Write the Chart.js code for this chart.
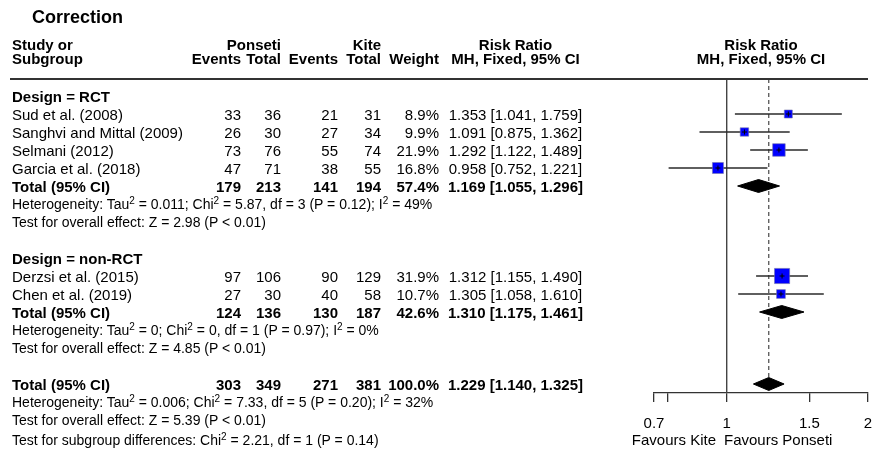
<!DOCTYPE html>
<html><head><meta charset="utf-8">
<script src="https://cdn.jsdelivr.net/npm/chart.js@4/dist/chart.umd.min.js"></script>
<style>
html,body{margin:0;padding:0;background:#fff;}
#wrap{position:relative;width:875px;height:450px;overflow:hidden;font-family:"Liberation Sans",Arial,Helvetica,sans-serif;color:#000;}
#c{position:absolute;left:0;top:0;}
.t{position:absolute;white-space:nowrap;line-height:1;}
.t sup{font-size:10px;line-height:0;vertical-align:5px;}
#rule{position:absolute;left:10px;top:78px;width:858px;height:1.5px;background:#333;}
</style></head><body><div id="wrap"><canvas id="c" width="875" height="450"></canvas><div id="rule"></div></div>
<script>
// ---------- data ----------
const studies = ["Sud et al. (2008)", "Sanghvi and Mittal (2009)", "Selmani (2012)", "Garcia et al. (2018)", "Derzsi et al. (2015)", "Chen et al. (2019)"];
const studyGroup = [0, 0, 0, 0, 1, 1];
const ponsetiEvents = [33, 26, 73, 47, 97, 27];
const ponsetiTotal = [36, 30, 76, 71, 106, 30];
const kiteEvents = [21, 27, 55, 38, 90, 40];
const kiteTotal = [31, 34, 74, 55, 129, 58];
const weights = [8.9, 9.9, 21.9, 16.8, 31.9, 10.7];
const rr = [1.353, 1.091, 1.292, 0.958, 1.312, 1.305];
const rrLow = [1.041, 0.875, 1.122, 0.752, 1.155, 1.058];
const rrHigh = [1.759, 1.362, 1.489, 1.221, 1.490, 1.610];

const groups = ["Design = RCT", "Design = non-RCT"];
const groupPonsetiEvents = [179, 124];
const groupPonsetiTotal = [213, 136];
const groupKiteEvents = [141, 130];
const groupKiteTotal = [194, 187];
const groupWeights = [57.4, 42.6];
const groupRR = [1.169, 1.310];
const groupLow = [1.055, 1.175];
const groupHigh = [1.296, 1.461];
const groupHet = [
  "Heterogeneity: Tau<sup>2</sup> = 0.011; Chi<sup>2</sup> = 5.87, df = 3 (P = 0.12); I<sup>2</sup> = 49%",
  "Heterogeneity: Tau<sup>2</sup> = 0; Chi<sup>2</sup> = 0, df = 1 (P = 0.97); I<sup>2</sup> = 0%"
];
const groupTest = ["Test for overall effect: Z = 2.98 (P &lt; 0.01)", "Test for overall effect: Z = 4.85 (P &lt; 0.01)"];

const overallTotals = [303, 349, 271, 381];
const overallWeight = 100.0;
const overallRR = 1.229, overallLow = 1.140, overallHigh = 1.325;
const overallHet = "Heterogeneity: Tau<sup>2</sup> = 0.006; Chi<sup>2</sup> = 7.33, df = 5 (P = 0.20); I<sup>2</sup> = 32%";
const overallTest = "Test for overall effect: Z = 5.39 (P &lt; 0.01)";
const subgroupTest = "Test for subgroup differences: Chi<sup>2</sup> = 2.21, df = 1 (P = 0.14)";

const xTicks = [0.7, 0.75, 1, 1.5, 2];
const xTickLabels = ["0.7", "", "1", "1.5", "2"];
const nullValue = 1;

// ---------- layout ----------
const W = 875;
const ROW_H = 18, FIRST_ROW_Y = 114, PLOT_TOP = 79, AXIS_Y = 393;
const yMin = (PLOT_TOP - FIRST_ROW_Y) / ROW_H;
const yMax = (AXIS_Y - FIRST_ROW_Y) / ROW_H;
const COL = {pe: 241, pt: 281, ke: 338, kt: 381, w: 439, rr: 515.5};
const FS = 15, FS_STAT = 14;
const wrap = document.getElementById('wrap');

function txt(html, x, base, align, bold, size) {
  size = size || FS;
  const d = document.createElement('div');
  d.className = 't';
  d.style.fontSize = size + 'px';
  if (bold) d.style.fontWeight = 'bold';
  d.innerHTML = html;
  d.style.top = (base - 0.8465 * size) + 'px';
  if (align === 'right') d.style.right = (W - x) + 'px';
  else if (align === 'center') { d.style.left = x + 'px'; d.style.transform = 'translateX(-50%)'; }
  else d.style.left = x + 'px';
  wrap.appendChild(d);
}
const baseOf = (r, size) => FIRST_ROW_Y + ROW_H * r + 0.358 * (size || FS);
const fmtRR = (m, l, h) => m.toFixed(3) + " [" + l.toFixed(3) + ", " + h.toFixed(3) + "]";

// Title and headers
txt("Correction", 32, 23, 'left', true, 18);
txt("Study or", 12, 50, 'left', true);
txt("Subgroup", 12, 64, 'left', true);
txt("Ponseti", COL.pt, 50, 'right', true);
txt("Events", COL.pe, 64, 'right', true);
txt("Total", COL.pt, 64, 'right', true);
txt("Kite", COL.kt, 50, 'right', true);
txt("Events", COL.ke, 64, 'right', true);
txt("Total", COL.kt, 64, 'right', true);
txt("Weight", COL.w, 64, 'right', true);
txt("Risk Ratio", COL.rr, 50, 'center', true);
txt("MH, Fixed, 95% CI", COL.rr, 64, 'center', true);
txt("Risk Ratio", 761, 50, 'center', true);
txt("MH, Fixed, 95% CI", 761, 64, 'center', true);

function dataRow(r, name, pe, pt, ke, kt, w, m, l, h, bold) {
  const b = baseOf(r);
  txt(name, 12, b, 'left', bold);
  txt(String(pe), COL.pe, b, 'right', bold);
  txt(String(pt), COL.pt, b, 'right', bold);
  txt(String(ke), COL.ke, b, 'right', bold);
  txt(String(kt), COL.kt, b, 'right', bold);
  txt(w.toFixed(1) + "%", COL.w, b, 'right', bold);
  txt(fmtRR(m, l, h), COL.rr, b, 'center', bold);
}

const studyRows = [], groupRows = [];
let r = -1;
groups.forEach((g, gi) => {
  txt(g, 12, baseOf(r), 'left', true); r++;
  studies.forEach((s, i) => {
    if (studyGroup[i] !== gi) return;
    studyRows[i] = r;
    dataRow(r, s, ponsetiEvents[i], ponsetiTotal[i], kiteEvents[i], kiteTotal[i], weights[i], rr[i], rrLow[i], rrHigh[i], false);
    r++;
  });
  groupRows[gi] = r;
  dataRow(r, "Total (95% CI)", groupPonsetiEvents[gi], groupPonsetiTotal[gi], groupKiteEvents[gi], groupKiteTotal[gi], groupWeights[gi], groupRR[gi], groupLow[gi], groupHigh[gi], true);
  r++;
  txt(groupHet[gi], 12, baseOf(r, FS_STAT), 'left', false, FS_STAT); r++;
  txt(groupTest[gi], 12, baseOf(r, FS_STAT), 'left', false, FS_STAT); r++;
  r++;
});
const overallRow = r;
dataRow(r, "Total (95% CI)", overallTotals[0], overallTotals[1], overallTotals[2], overallTotals[3], overallWeight, overallRR, overallLow, overallHigh, true);
r++;
txt(overallHet, 12, baseOf(r, FS_STAT), 'left', false, FS_STAT); r++;
txt(overallTest, 12, baseOf(r, FS_STAT), 'left', false, FS_STAT); r++;
txt(subgroupTest, 12, baseOf(r + 0.1, FS_STAT), 'left', false, FS_STAT);
txt("Favours Kite", 716, 445, 'right', false, 15);
txt("Favours Ponseti", 724, 445, 'left', false, 15);

// ---------- chart datasets ----------
const lineStyle = {showLine: true, pointRadius: 0, borderColor: '#2a2a2a', borderWidth: 1.5, fill: false};
const datasets = [];
datasets.push(Object.assign({data: [{x: nullValue, y: yMin}, {x: nullValue, y: yMax}], order: 20}, lineStyle, {borderColor: '#444', borderWidth: 1.4}));
datasets.push(Object.assign({data: [{x: overallRR, y: yMin}, {x: overallRR, y: overallRow}], order: 19}, lineStyle, {borderColor: '#555', borderDash: [4, 3], borderWidth: 1.3}));
studies.forEach((s, i) => {
  datasets.push(Object.assign({data: [{x: rrLow[i], y: studyRows[i]}, {x: rrHigh[i], y: studyRows[i]}], order: 5}, lineStyle));
});
datasets.push({
  data: studies.map((s, i) => ({x: rr[i], y: studyRows[i]})),
  pointStyle: 'rect',
  pointRadius: weights.map(w => 1.9 * Math.sqrt(w)),
  backgroundColor: '#0000FF', borderColor: '#7777aa', borderWidth: 0.6, order: 2
});
datasets.push({
  data: studies.map((s, i) => ({x: rr[i], y: studyRows[i]})),
  pointStyle: 'cross', pointRadius: 2.5, borderColor: '#000', borderWidth: 1, order: 1
});
const DH = 0.36;
function diamond(m, l, h, row) {
  return {
    data: [{x: l, y: row}, {x: m, y: row - DH}, {x: h, y: row}, {x: m, y: row + DH}, {x: l, y: row}],
    showLine: true, pointRadius: 0, borderColor: '#000', borderWidth: 1,
    backgroundColor: '#000', fill: 'shape', order: 3
  };
}
groups.forEach((g, gi) => datasets.push(diamond(groupRR[gi], groupLow[gi], groupHigh[gi], groupRows[gi])));
datasets.push(diamond(overallRR, overallLow, overallHigh, overallRow));

new Chart(document.getElementById('c'), {
  type: 'scatter',
  data: {datasets},
  options: {
    responsive: false, animation: false, devicePixelRatio: 1,
    layout: {autoPadding: false, padding: {left: 654, right: 7, top: PLOT_TOP, bottom: 0}},
    plugins: {legend: {display: false}, tooltip: {enabled: false}},
    scales: {
      x: {
        type: 'logarithmic', min: 0.7, max: 2, position: 'bottom',
        afterBuildTicks: s => { s.ticks = xTicks.map(v => ({value: v})); },
        afterFit: s => { s.height = 450 - AXIS_Y; s.paddingLeft = 0; s.paddingRight = 0; },
        grid: {drawOnChartArea: false, drawTicks: true, tickLength: 9, color: '#333', lineWidth: 1.3},
        border: {display: true, color: '#333', width: 1.3},
        ticks: {autoSkip: false, maxRotation: 0, padding: 13, color: '#000',
          font: {size: 15, family: '"Liberation Sans", Arial, sans-serif'},
          callback: (v, i) => xTickLabels[i]}
      },
      y: {type: 'linear', min: yMin, max: yMax, reverse: true, display: false}
    }
  }
});
</script></body></html>
